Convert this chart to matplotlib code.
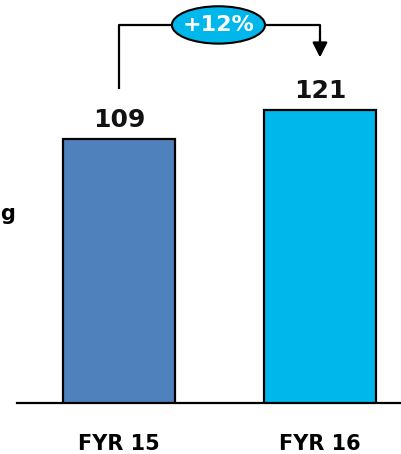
import matplotlib
matplotlib.use("Agg")
import matplotlib.pyplot as plt
from matplotlib.patches import Ellipse

categories = ["FYR 15", "FYR 16"]
values = [109, 121]
bar_colors = ["#4F81BD", "#00B7EB"]
growth_label = "+12%"
side_label = "g"

W, H = 401, 454
fig = plt.figure(figsize=(W / 100, H / 100), dpi=100)

# axes spans from the baseline (y=403px) to the top of the figure
base_px = 403
ax = fig.add_axes([17 / W, (H - base_px) / H, (W - 17) / W, base_px / H])
ppu = 2.425  # pixels per value unit
ax.set_ylim(0, base_px / ppu)
ax.set_xlim(-0.507, 1.403)

x = list(range(len(categories)))
ax.bar(x, values, width=0.56, color=bar_colors, edgecolor="black", linewidth=1.6, zorder=3)

for s in ["top", "left", "right"]:
    ax.spines[s].set_visible(False)
ax.spines["bottom"].set_linewidth(1.6)
ax.set_yticks([])
ax.set_xticks(x)
ax.set_xticklabels(categories, fontsize=15, fontweight="bold", family="DejaVu Sans")
ax.tick_params(axis="x", length=0, pad=22.5)

for xi, v in zip(x, values):
    ax.text(xi, v + 2.6, str(v), ha="center", va="bottom", fontsize=18,
            fontweight="bold", family="DejaVu Sans", color="#111111")

# growth bracket between the two bars
top_y = 155.9
ax.plot([x[0], x[0], x[1], x[1]], [values[0] + 20.5, top_y, top_y, values[1] + 28],
        color="black", linewidth=1.6, solid_capstyle="butt", zorder=2)
ax.annotate("", xy=(x[1], values[1] + 21.5), xytext=(x[1], values[1] + 29),
            arrowprops=dict(arrowstyle="-|>,head_length=0.9,head_width=0.45",
                            color="black", lw=1.6, shrinkA=0, shrinkB=0))
ax.add_patch(Ellipse((0.495, top_y), width=0.463, height=15.4,
                     facecolor="#00B7EB", edgecolor="black", linewidth=1.5, zorder=4))
ax.text(0.495, top_y, growth_label, ha="center", va="center", fontsize=16,
        fontweight="bold", color="white", family="DejaVu Sans", zorder=5)

fig.text(0.5 / W, 1 - 220 / H, side_label, ha="left", va="baseline", fontsize=15,
         fontweight="bold", family="DejaVu Sans")

fig.savefig("out.png", dpi=100)
